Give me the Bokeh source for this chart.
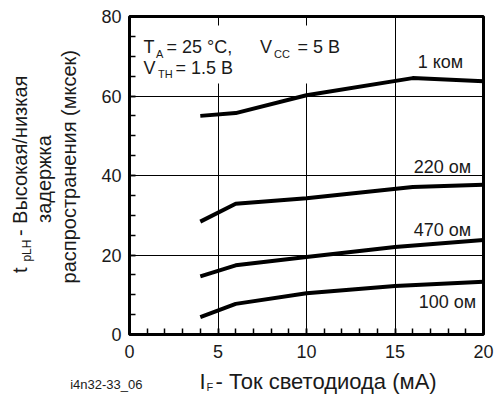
import math
from bokeh.plotting import figure
from bokeh.layouts import column, row
from bokeh.models import Label, BoxAnnotation, SingleIntervalTicker, Range1d
from bokeh.embed import file_html
from bokeh.resources import INLINE

# ---- data ----
if_1k = [4, 6, 10, 16, 20]
tplh_1k = [55.0, 55.7, 60.2, 64.5, 63.7]
if_220 = [4, 6, 10, 16, 20]
tplh_220 = [28.4, 32.9, 34.3, 37.1, 37.7]
if_470 = [4, 6, 10, 15, 20]
tplh_470 = [14.6, 17.4, 19.5, 22.0, 23.8]
if_100 = [4, 6, 10, 15, 20]
tplh_100 = [4.4, 7.7, 10.4, 12.2, 13.3]
series_names = ["1 ком", "220 ом", "470 ом", "100 ом"]
x_ticks = [0, 5, 10, 15, 20]
y_ticks = [0, 20, 40, 60, 80]

XMIN, XMAX, YMIN, YMAX = 0, 20, 0, 80
W, H = 494, 394
LW = 92            # width of the left title strip
MH = 362           # height of the main chart figure
FL, FR, FT, FB = 129, 483, 16, 334  # frame edges in page pixels
FONT = "Liberation Sans"
TXT = "#1a1a1a"
BL = 0.3           # baseline correction (fraction of font size)


def X(px):
    return XMIN + (px - FL) / (FR - FL) * (XMAX - XMIN)


def Y(py):
    return YMIN + (FB - py) / (FB - FT) * (YMAX - YMIN)


p = figure(width=W - LW, height=MH, output_backend="svg", toolbar_location=None,
           x_range=Range1d(XMIN, XMAX), y_range=Range1d(YMIN, YMAX),
           min_border_left=FL - LW, min_border_right=W - FR,
           min_border_top=FT, min_border_bottom=MH - FB)
p.background_fill_color = "white"
p.border_fill_color = "white"
p.outline_line_color = "black"
p.outline_line_width = 3

p.xaxis.ticker = SingleIntervalTicker(interval=5, num_minor_ticks=5)
p.yaxis.ticker = SingleIntervalTicker(interval=20, num_minor_ticks=4)
for ax in (p.xaxis, p.yaxis):
    ax.axis_line_color = None
    ax.major_tick_in = 6
    ax.major_tick_out = 0
    ax.minor_tick_in = 6
    ax.minor_tick_out = 0
    ax.major_tick_line_color = "black"
    ax.minor_tick_line_color = "black"
    ax.major_tick_line_width = 1.5
    ax.minor_tick_line_width = 1.5
    ax.major_label_text_font = FONT
    ax.major_label_text_font_size = "18px"
    ax.major_label_text_color = TXT
p.xaxis.major_label_standoff = 10
p.yaxis.major_label_standoff = 8

p.xgrid.ticker = SingleIntervalTicker(interval=5)
p.ygrid.ticker = SingleIntervalTicker(interval=20)
p.grid.grid_line_color = "black"
p.grid.grid_line_width = 1
p.grid.grid_line_alpha = 1

# white backing behind the condition text
p.add_layout(BoxAnnotation(left=X(134), right=X(336), top=Y(25), bottom=Y(83),
                           fill_color="white", fill_alpha=1, line_color=None,
                           level="glyph"))

for xs, ys in ((if_1k, tplh_1k), (if_220, tplh_220), (if_470, tplh_470), (if_100, tplh_100)):
    p.line(xs, ys, line_width=4, line_color="black", line_join="round")


def mk(fig, text, x, y, size, align="left", baseline="alphabetic", angle=0.0):
    fig.add_layout(Label(x=x, y=y, text=text, text_font=FONT,
                         text_font_size=f"{size}px", text_color=TXT,
                         text_align=align, text_baseline=baseline, angle=angle))


def lab(text, px, py, size, align="left"):
    mk(p, text, X(px), Y(py - BL * size), size, align)


# curve labels
lab(series_names[0], 440, 67, 18, "center")
lab(series_names[1], 442, 172, 18, "center")
lab(series_names[2], 442, 235, 18, "center")
lab(series_names[3], 447, 307, 18, "center")

# conditions
lab("T", 143, 52, 18)
lab("A", 155.5, 57, 11)
lab("= 25 °C,", 166, 52, 18)
lab("V", 259.5, 52, 18)
lab("CC", 273.5, 57, 11)
lab("= 5 В", 297, 52, 18)
lab("V", 143, 73, 18)
lab("TH", 157.5, 77, 11)
lab("= 1.5 В", 175, 73, 18)


def strip(width, height):
    f = figure(width=width, height=height, output_backend="svg", toolbar_location=None,
               x_range=Range1d(0, width), y_range=Range1d(0, height),
               x_axis_location=None, y_axis_location=None,
               min_border=0, min_border_left=0, min_border_right=0,
               min_border_top=0, min_border_bottom=0)
    f.outline_line_color = None
    f.background_fill_color = "white"
    f.border_fill_color = "white"
    f.xgrid.visible = False
    f.ygrid.visible = False
    return f


# left strip: rotated y title (page px -> strip coords)
ly = strip(LW, MH)
R = math.pi / 2


def ylab(text, px, py, size, align="left"):
    mk(ly, text, px - BL * size, MH - py, size, align, "alphabetic", R)


ylab("t", 25, 292, 20)
ylab("pLH", 30, 279, 12)
ylab("- Высокая/низкая", 25, 250, 20)
ylab("задержка", 49, 185, 20, "center")
ylab("распространения (мксек)", 74, 171, 20, "center")

# bottom strip: x title and figure code
BH = H - MH
bx = strip(W, BH)


def xlab(text, px, py, size, align="left"):
    mk(bx, text, px, H - (py - BL * size), size, align, "alphabetic")


xlab("I", 199, 388, 22)
xlab("F", 206, 390, 11)
xlab("- Ток светодиода (мА)", 215, 388, 22)
xlab("i4n32-33_06", 142, 388, 13, "right")

layout = column(row(ly, p, spacing=0), bx, spacing=0)
open("out.html", "w").write(file_html(layout, INLINE))
